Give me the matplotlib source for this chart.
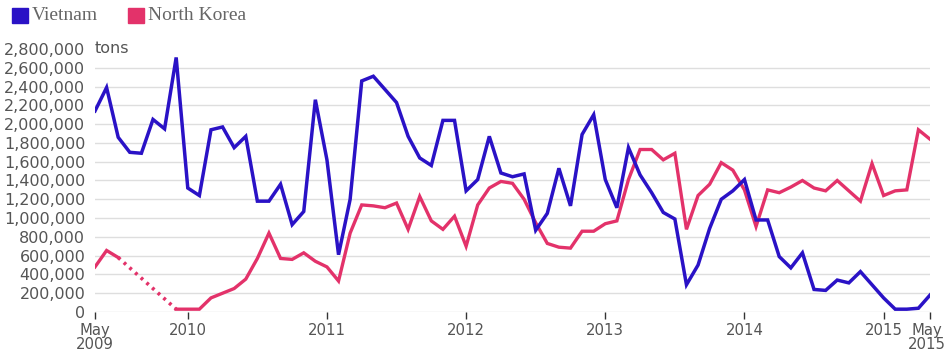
import matplotlib
matplotlib.use("Agg")
import matplotlib.pyplot as plt
import matplotlib.transforms as mtransforms
import numpy as np

# monthly imports, May 2009 .. May 2015 (tons)
vietnam = [2140000, 2390000, 1860000, 1700000, 1690000, 2050000, 1950000, 2710000,
           1320000, 1240000, 1940000, 1970000, 1750000, 1870000, 1180000, 1180000,
           1360000, 930000, 1070000, 2260000, 1620000, 610000, 1200000, 2460000,
           2510000, 2370000, 2230000, 1870000, 1640000, 1560000, 2040000, 2040000,
           1290000, 1410000, 1870000, 1480000, 1440000, 1470000, 870000, 1050000,
           1530000, 1130000, 1890000, 2100000, 1410000, 1110000, 1750000, 1460000,
           1270000, 1060000, 990000, 290000, 500000, 890000, 1200000, 1290000,
           1410000, 980000, 980000, 590000, 470000, 630000, 240000, 230000,
           340000, 310000, 430000, 290000, 150000, 30000, 30000, 40000, 180000]

north_korea = [480000, 655000, 580000, None, None, None, None, 30000,
               30000, 30000, 150000, 200000, 250000, 350000, 570000, 840000,
               570000, 560000, 630000, 540000, 480000, 330000, 840000, 1140000,
               1130000, 1110000, 1160000, 880000, 1230000, 970000, 880000, 1020000,
               700000, 1140000, 1320000, 1390000, 1370000, 1200000, 950000, 730000,
               690000, 680000, 860000, 860000, 940000, 970000, 1410000, 1730000,
               1730000, 1620000, 1690000, 880000, 1240000, 1360000, 1590000, 1510000,
               1300000, 910000, 1300000, 1270000, 1330000, 1400000, 1320000, 1290000,
               1400000, 1290000, 1180000, 1580000, 1240000, 1290000, 1300000, 1940000, 1840000]

tick_pos = [0, 8, 20, 32, 44, 56, 68, 72]
tick_labels = ["May\n2009", "2010", "2011", "2012", "2013", "2014", "2015", "May\n2015"]

y_ticks = np.arange(0, 2800001, 200000)

blue = "#2a12c6"
pink = "#e3326a"
grey_text = "#555555"

months = np.arange(len(vietnam))
nk = np.array([np.nan if v is None else v for v in north_korea], dtype=float)

fig = plt.figure(figsize=(9.48, 3.52), dpi=100)
ax = fig.add_axes([95 / 948, 40 / 352, 835 / 948, 263 / 352])

for v in y_ticks[:-1]:
    ax.axhline(v, color="#dedede", lw=1, zorder=1)

# gap in North Korea data bridged with a dotted line
ax.plot([2, 7], [nk[2], nk[7]], color=pink, lw=2.6, linestyle=(0, (0.8, 1.3)), zorder=2)
ax.plot(months, nk, color=pink, lw=2.4, zorder=3, solid_joinstyle="miter")
ax.plot(months, vietnam, color=blue, lw=2.5, zorder=4, solid_joinstyle="miter")

ax.set_xlim(0, 72)
ax.set_ylim(0, 2800000)
for s in ax.spines.values():
    s.set_visible(False)

ax.set_yticks(y_ticks)
ax.set_yticklabels([f"{v:,}" for v in y_ticks], fontsize=11.5, color=grey_text)
ax.tick_params(axis="y", length=0, pad=7)
ax.text(0, 2800000, "tons", fontsize=11.5, color=grey_text, va="center", ha="left",
        transform=ax.transData)

ax.set_xticks(tick_pos)
ax.set_xticklabels(tick_labels, fontsize=10.7, color=grey_text, linespacing=0.9)
ax.tick_params(axis="x", length=5, width=1, color="#333333", pad=3, direction="out")
last = ax.get_xticklabels()[-1]
last.set_transform(last.get_transform() +
                   mtransforms.ScaledTranslation(-3 / 100, 0, fig.dpi_scale_trans))

# legend
fig.patches.append(plt.Rectangle((12 / 948, 1 - 23 / 352), 16 / 948, 15 / 352,
                                 transform=fig.transFigure, color=blue))
fig.text(32 / 948, 1 - 15.5 / 352, "Vietnam", fontsize=14, family="Liberation Serif",
         color="#666666", va="center")
fig.patches.append(plt.Rectangle((128 / 948, 1 - 23 / 352), 16 / 948, 15 / 352,
                                 transform=fig.transFigure, color=pink))
fig.text(148 / 948, 1 - 15.5 / 352, "North Korea", fontsize=14, family="Liberation Serif",
         color="#666666", va="center")

plt.savefig("out.png", dpi=100)
